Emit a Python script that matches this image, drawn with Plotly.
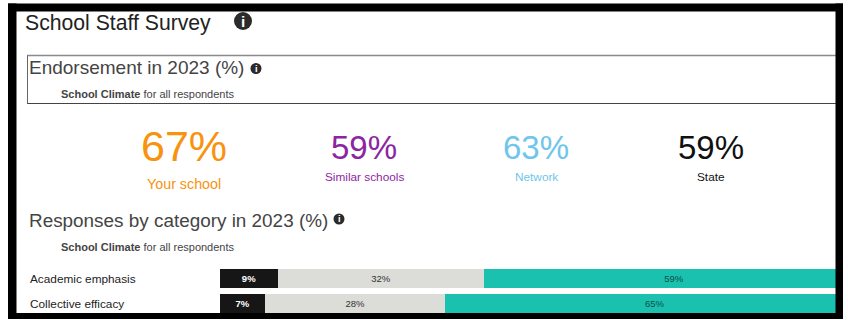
import plotly.graph_objects as go

W, H = 848, 320

# Stacked response shares per category
categories = ["Academic emphasis", "Collective efficacy"]
disagree = [9, 7]
neutral = [32, 28]
agree = [59, 65]

# Headline endorsement figures
stat_names = ["Your school", "Similar schools", "Network", "State"]
stat_values = [67, 59, 63, 59]
stat_colors = ["#F7930F", "#8E24A0", "#6FC6EA", "#111111"]
stat_centers = [184, 364, 536, 711]

FONT = "Liberation Sans, Arial, sans-serif"


def px(x):
    return x / W


def py(y):
    return 1 - y / H


def text(x, y, s, size, color, anchor="left"):
    return dict(
        x=px(x), y=py(y), xref="paper", yref="paper", text=s, showarrow=False,
        xanchor=anchor, yanchor="middle", align=anchor, borderpad=0,
        borderwidth=0, font=dict(size=size, color=color, family=FONT),
    )


def rect(x0, y0, x1, y1, fill):
    return dict(
        type="rect", xref="paper", yref="paper", x0=px(x0), x1=px(x1),
        y0=py(y0), y1=py(y1), fillcolor=fill, line=dict(width=0),
        layer="above",
    )


def hline(x0, x1, y, color, width=1):
    return dict(
        type="line", xref="paper", yref="paper", x0=px(x0), x1=px(x1),
        y0=py(y), y1=py(y), line=dict(color=color, width=width), layer="above",
    )


def vline(x, y0, y1, color, width=1):
    return dict(
        type="line", xref="paper", yref="paper", x0=px(x), x1=px(x),
        y0=py(y0), y1=py(y1), line=dict(color=color, width=width), layer="above",
    )


def info_icon(cx, cy, r):
    """Filled round info badge with a white letter i."""
    shape = dict(
        type="circle", xref="paper", yref="paper",
        x0=px(cx - r), x1=px(cx + r), y0=py(cy + r), y1=py(cy - r),
        fillcolor="#2B2B2B", line=dict(width=0), layer="above",
    )
    label = text(cx, cy, "<b>i</b>", r * 1.7, "#FFFFFF", "center")
    return shape, label


fig = go.Figure()
series = [
    ("Disagree", disagree, "#161616", "#FFFFFF", "<b>{}%</b>"),
    ("Neutral", neutral, "#DCDCD8", "#333333", "{}%"),
    ("Agree", agree, "#19C1AE", "#0F4F48", "{}%"),
]
for name, values, color, label_color, fmt in series:
    fig.add_bar(
        name=name, y=categories, x=values, orientation="h",
        marker=dict(color=color, line=dict(width=0)),
        text=[fmt.format(v) for v in values], textposition="inside",
        insidetextanchor="middle", constraintext="none",
        textangle=0,
        textfont=dict(size=9.5, color=label_color, family=FONT),
        hoverinfo="skip",
    )

annotations = [
    text(25, 23, "School Staff Survey", 21.2, "#222222"),
    text(29, 67, "Endorsement in 2023 (%)", 19, "#444444"),
    text(61, 94, "<b>School Climate</b> for all respondents", 11, "#444444"),
    text(29, 220, "Responses by category in 2023 (%)", 18.9, "#444444"),
    text(61, 247, "<b>School Climate</b> for all respondents", 11, "#444444"),
]

for i, (name, value, color, cx) in enumerate(
    zip(stat_names, stat_values, stat_colors, stat_centers)
):
    big = i == 0
    annotations.append(text(cx, 146 if big else 147, f"{value}%", 43 if big else 33, color, "center"))
    annotations.append(text(cx, 184 if big else 177, name, 14.3 if big else 11.8, color, "center"))

for cat in categories:
    annotations.append(dict(
        x=px(28), y=cat, xref="paper", yref="y", text=cat, showarrow=False,
        xanchor="left", yanchor="middle",
        font=dict(size=11.8, color="#222222", family=FONT),
    ))

shapes = [
    # Endorsement panel outline
    hline(27, 836, 55.5, "#8A8A8A", 1.5),
    hline(27, 836, 103.5, "#444444", 1),
    vline(27.5, 55.5, 103.5, "#666666", 1),
    # Heavy outer frame
    rect(8, 3.5, 843, 11.5, "#000000"),
    rect(8, 313, 843, 319, "#000000"),
    rect(8, 3.5, 16.5, 319, "#000000"),
    rect(835.5, 3.5, 843, 319, "#000000"),
]
for cx, cy, r in [(243, 21, 9), (256, 68.5, 5.5), (339, 219, 5.5)]:
    s, a = info_icon(cx, cy, r)
    shapes.append(s)
    annotations.append(a)

fig.update_layout(
    width=W, height=H, margin=dict(l=0, r=0, t=0, b=0),
    paper_bgcolor="#FFFFFF", plot_bgcolor="#FFFFFF",
    barmode="stack", bargap=0.24, showlegend=False,
    xaxis=dict(domain=[px(220), px(836)], range=[0, 95.65], visible=False, fixedrange=True),
    yaxis=dict(
        domain=[py(316), py(266.3)], categoryorder="array",
        categoryarray=categories[::-1], showticklabels=False, showgrid=False,
        zeroline=False, showline=False, ticks="", fixedrange=True,
    ),
    annotations=annotations, shapes=shapes,
)

fig.write_html("out.html", config=dict(displayModeBar=False))
